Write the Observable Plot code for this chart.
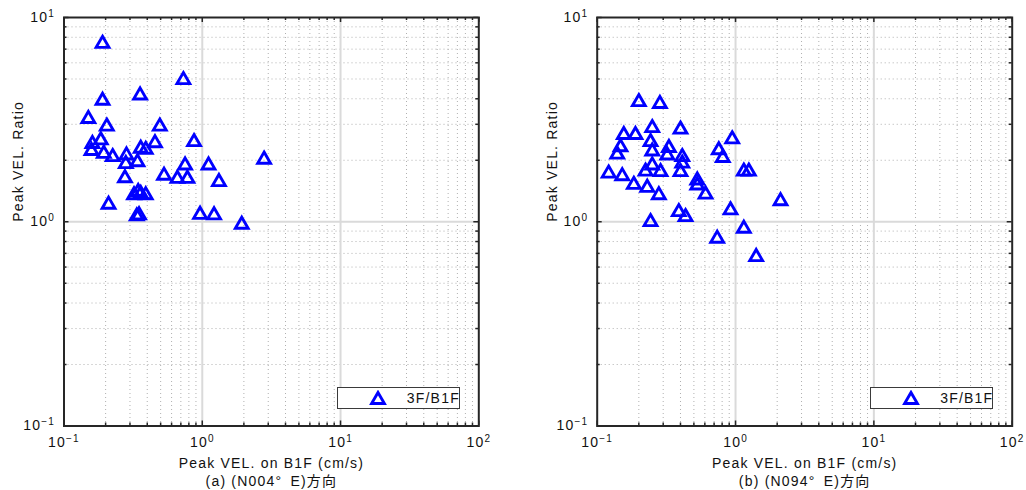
<!DOCTYPE html>
<html>
<head>
<meta charset="utf-8">
<script src="https://cdn.jsdelivr.net/npm/d3@7"></script>
<script src="https://cdn.jsdelivr.net/npm/@observablehq/plot@0.6"></script>
<style>
  html, body { margin: 0; padding: 0; background: #fff; }
  #wrap { display: flex; width: 1026px; height: 490px; overflow: hidden; }
  .panel { position: relative; width: 513px; height: 490px; }
  .panel svg { display: block; }
  .legend {
    position: absolute; box-sizing: border-box; background: #fff;
    border: 1.5px solid #3a3a3a; height: 22px; width: 123px;
    font: 14px "Liberation Sans", Arial, sans-serif; letter-spacing: 1.2px; color: #111;
  }
  .legend svg { position: absolute; left: 31px; top: 2px; }
  .legend span { position: absolute; left: 69px; top: 1px; line-height: 18px; }
</style>
</head>
<body>
<div id="wrap"></div>
<script>
// Peak velocity on B1F (cm/s) and 3F/B1F peak velocity ratio, direction N004°E
const velA = [0.19, 0.73, 0.19, 0.355, 0.15, 0.204, 0.493, 0.872, 0.455,
  0.1605, 0.1845, 0.158, 0.194, 0.225, 0.283, 0.28, 0.34, 0.359, 0.39,
  2.8, 0.751, 1.11, 0.529, 0.661, 0.781, 0.276, 1.32,
  0.321, 0.359, 0.39, 0.344, 0.21, 0.336, 0.349, 0.964, 1.217, 1.93];
const ratioA = [7.6, 5.05, 4.0, 4.25, 3.26, 2.99, 2.99, 2.51, 2.48,
  2.46, 2.56, 2.27, 2.2, 2.12, 2.16, 1.96, 2.0, 2.33, 2.3,
  2.06, 1.93, 1.93, 1.72, 1.66, 1.66, 1.67, 1.6,
  1.38, 1.4, 1.38, 1.43, 1.24, 1.087, 1.1, 1.106, 1.1, 0.989];

// Same quantities, direction N094°E
const velB = [0.2, 0.284, 0.1557, 0.189, 0.25, 0.4, 0.946, 0.1474, 0.1395,
  0.243, 0.25, 0.33, 0.321, 0.757, 0.809, 0.412, 0.412,
  0.121, 0.1517, 0.184, 0.23, 0.279, 0.25, 0.2235, 0.287, 0.4,
  0.529, 0.529, 0.607, 1.148, 1.248, 2.115, 0.92, 0.389, 0.435,
  0.243, 1.148, 0.737, 1.41];
const ratioB = [3.94, 3.86, 2.72, 2.72, 2.94, 2.89, 2.59, 2.37, 2.18,
  2.51, 2.26, 2.35, 2.16, 2.29, 2.1, 2.12, 1.97,
  1.76, 1.71, 1.55, 1.5, 1.38, 1.93, 1.8, 1.79, 1.79,
  1.63, 1.54, 1.39, 1.8, 1.8, 1.29, 1.163, 1.14, 1.078,
  1.019, 0.945, 0.845, 0.687];

const xTicks = [0.1, 1, 10, 100];
const yTicks = [0.1, 1, 10];
const xMinor = [0.1, 1, 10].flatMap(d => d3.range(2, 10).map(k => +(k * d).toPrecision(3)));
const yMinor = [0.1, 1].flatMap(d => d3.range(2, 10).map(k => +(k * d).toPrecision(3)));

const xLabel = "Peak VEL. on B1F (cm/s)";
const yLabel = "Peak VEL. Ratio";
const seriesName = "3F/B1F";
const captions = ["(a) (N004°\u2002E)方向", "(b) (N094°\u2002E)方向"];

const FONT = '"Liberation Sans", Arial, "Noto Sans CJK JP", sans-serif';
const AXIS = "#262626";
const BLUE = "#0000ff";

// upward triangle centred on its bounding box
const triUp = {
  draw(ctx, size) {
    const a = Math.sqrt(size / Math.PI);
    const h = a * Math.sqrt(3);
    ctx.moveTo(0, -h / 2);
    ctx.lineTo(a, h / 2);
    ctx.lineTo(-a, h / 2);
    ctx.closePath();
  }
};

const expLabel = v => "10^" + String(Math.round(Math.log10(v))).replace("-", "\u2212");

function panel(vel, ratio, caption, marginLeft, marginRight) {
  const W = 513, H = 490, mt = 17, mb = 64.5;
  const fw = W - marginLeft - marginRight, fh = H - mt - mb;
  const pts = vel.map((v, i) => ({v, r: ratio[i]}));
  const tick = {stroke: AXIS, strokeWidth: 1.5};

  const svg = Plot.plot({
    width: W, height: H,
    marginLeft, marginRight, marginTop: mt, marginBottom: mb,
    x: {type: "log", domain: [0.1, 100]},
    y: {type: "log", domain: [0.1, 10]},
    style: {fontFamily: FONT, fontSize: "14px", background: "#fff", color: "#111", letterSpacing: "1.2px", overflow: "visible"},
    marks: [
      // minor grid
      Plot.ruleX(xMinor, {stroke: "#b0b0b0", strokeDasharray: "1,3", strokeWidth: 1}),
      Plot.ruleY(yMinor, {stroke: "#b0b0b0", strokeDasharray: "1,3", strokeWidth: 1}),
      // major grid
      Plot.ruleX([1, 10], {stroke: "#dadada", strokeWidth: 2}),
      Plot.ruleY([1], {stroke: "#dadada", strokeWidth: 2}),
      // inward ticks on all four sides
      Plot.ruleX(xMinor, {...tick, insetTop: fh - 3}),
      Plot.ruleX(xMinor, {...tick, insetBottom: fh - 3}),
      Plot.ruleX(xTicks, {...tick, insetTop: fh - 5}),
      Plot.ruleX(xTicks, {...tick, insetBottom: fh - 5}),
      Plot.ruleY(yMinor, {...tick, insetRight: fw - 3}),
      Plot.ruleY(yMinor, {...tick, insetLeft: fw - 3}),
      Plot.ruleY(yTicks, {...tick, insetRight: fw - 5}),
      Plot.ruleY(yTicks, {...tick, insetLeft: fw - 5}),
      // observations
      Plot.dot(pts, {x: "v", y: "r", symbol: triUp, r: 6.4, stroke: BLUE, strokeWidth: 2.9, fill: "none"}),
      Plot.frame({stroke: AXIS, strokeWidth: 2}),
      // tick labels
      Plot.axisX(xTicks, {anchor: "bottom", tickSize: 0, tickPadding: 11, tickFormat: expLabel, label: null}),
      Plot.axisY(yTicks, {anchor: "left", tickSize: 0, tickPadding: 9, tickFormat: expLabel, label: null}),
      // axis titles and caption
      Plot.text([xLabel], {frameAnchor: "bottom", dy: 41.5, fontSize: 14}),
      Plot.text([yLabel], {frameAnchor: "left", dx: -45, rotate: -90, fontSize: 14}),
      Plot.text([caption], {frameAnchor: "bottom", dy: 60, fontSize: 14})
    ]
  });

  // tick labels: larger type, exponents as superscripts
  const labels = d3.select(svg).selectAll("g[aria-label$='tick label']");
  labels.attr("font-size", null).style("font-size", "14px");
  labels.selectAll("text").each(function () {
    const [base, exp] = this.textContent.split("^");
    if (exp === undefined) return;
    const t = d3.select(this).style("font-size", "14px");
    t.text(base);
    t.append("tspan").attr("dy", "-0.5em").style("font-size", "10px").text(exp);
  });

  const div = document.createElement("div");
  div.className = "panel";
  div.appendChild(svg);

  // legend box in the lower-right corner of the frame
  const lg = document.createElement("div");
  lg.className = "legend";
  lg.style.left = (marginLeft + fw - 18.5 - 123) + "px";
  lg.style.top = (mt + fh - 16.5 - 22) + "px";
  const a = 6.4, h = a * Math.sqrt(3);
  lg.innerHTML = `<svg width="18" height="16" viewBox="-9 -8 18 16"><path d="M0,${-h/2}L${a},${h/2}L${-a},${h/2}Z" fill="none" stroke="${BLUE}" stroke-width="2.9"/></svg><span>${seriesName}</span>`;
  div.appendChild(lg);
  return div;
}

const wrap = document.getElementById("wrap");
wrap.appendChild(panel(velA, ratioA, captions[0], 63.5, 34.7));
wrap.appendChild(panel(velB, ratioB, captions[1], 83.7, 14.3));
</script>
</body>
</html>
